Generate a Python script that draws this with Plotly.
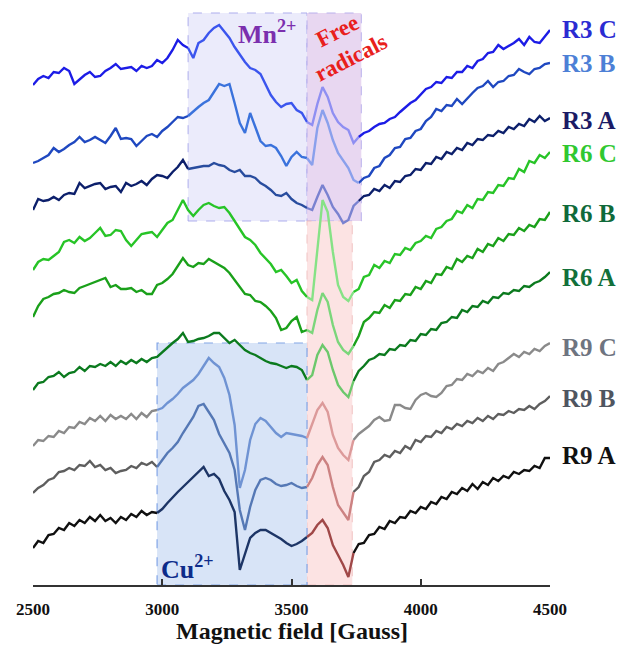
import plotly.graph_objects as go

# Magnetic field sweep (Gauss)
FIELD_G = list(range(2500, 4501, 20))

# EPR spectra, stacked, arbitrary units
R3_C = [515, 521, 524, 522, 528, 527, 532, 529, 516, 521,
        525, 528, 523, 524, 529, 532, 536, 531, 532, 533,
        529, 534, 532, 534, 540, 537, 542, 550, 560, 555,
        552, 542, 557, 560, 567, 572, 575, 569, 562, 553,
        545, 538, 532, 530, 526, 516, 505, 498, 493, 496,
        497, 490, 487, 478, 475, 496, 513, 503, 487, 478,
        473, 470, 457, 463, 467, 469, 473, 476, 477, 481,
        483, 488, 493, 497, 500, 505, 511, 513, 518, 517,
        523, 522, 528, 528, 534, 532, 539, 541, 547, 548,
        555, 551, 554, 557, 561, 555, 563, 558, 557, 563,
        570]
R3_B = [437, 439, 442, 445, 452, 448, 451, 455, 458, 463,
        458, 460, 463, 460, 457, 464, 472, 461, 462, 461,
        454, 459, 464, 466, 463, 469, 473, 478, 483, 482,
        484, 489, 493, 497, 500, 508, 516, 514, 516, 497,
        477, 467, 487, 473, 459, 454, 455, 452, 444, 434,
        443, 448, 443, 442, 435, 472, 490, 477, 460, 447,
        439, 432, 420, 417, 422, 424, 432, 434, 442, 445,
        452, 453, 461, 462, 469, 471, 479, 483, 491, 489,
        495, 494, 501, 496, 502, 507, 512, 514, 519, 513,
        518, 519, 524, 525, 531, 528, 526, 531, 532, 536,
        537]
R3_A = [390, 401, 399, 400, 403, 400, 405, 407, 406, 417,
        412, 414, 416, 417, 411, 413, 414, 408, 417, 414,
        416, 419, 415, 421, 425, 424, 422, 428, 433, 440,
        431, 432, 433, 434, 434, 437, 435, 434, 430, 428,
        430, 424, 424, 422, 417, 414, 410, 405, 404, 407,
        401, 397, 395, 392, 390, 403, 415, 405, 393, 386,
        377, 380, 394, 399, 404, 405, 411, 409, 415, 412,
        419, 418, 424, 425, 431, 430, 437, 436, 443, 441,
        448, 446, 452, 450, 457, 455, 461, 460, 465, 464,
        469, 467, 473, 471, 476, 474, 481, 478, 484, 479,
        482]
R6_C = [330, 338, 341, 340, 344, 348, 358, 360, 357, 363,
        359, 362, 367, 372, 364, 365, 370, 369, 360, 354,
        360, 366, 367, 368, 363, 370, 377, 380, 390, 400,
        390, 384, 390, 395, 397, 394, 392, 393, 387, 379,
        370, 363, 360, 355, 347, 341, 336, 328, 330, 324,
        317, 320, 309, 303, 300, 350, 400, 388, 348, 315,
        303, 299, 308, 311, 323, 325, 335, 332, 339, 337,
        346, 345, 352, 350, 357, 359, 364, 362, 371, 373,
        379, 381, 389, 387, 395, 392, 401, 400, 408, 407,
        415, 414, 422, 421, 431, 428, 439, 437, 445, 442,
        448]
R6_B = [283, 294, 301, 303, 306, 307, 310, 308, 307, 312,
        314, 316, 318, 320, 322, 313, 315, 311, 311, 312,
        308, 310, 306, 306, 315, 317, 321, 326, 334, 342,
        335, 333, 337, 336, 341, 338, 335, 332, 327, 320,
        312, 306, 305, 299, 298, 294, 289, 282, 270, 272,
        279, 283, 268, 270, 267, 290, 307, 298, 275, 258,
        250, 246, 254, 264, 278, 282, 288, 287, 295, 292,
        300, 299, 306, 305, 313, 311, 319, 317, 326, 325,
        333, 331, 341, 338, 344, 342, 351, 348, 356, 354,
        362, 359, 366, 365, 372, 369, 375, 373, 381, 380,
        388]
R6_A = [210, 217, 218, 223, 224, 228, 223, 227, 228, 233,
        229, 234, 233, 236, 234, 238, 234, 239, 236, 240,
        237, 241, 238, 242, 243, 248, 253, 257, 261, 267,
        258, 259, 261, 262, 264, 267, 267, 262, 257, 260,
        255, 250, 247, 245, 242, 239, 237, 236, 234, 232,
        234, 233, 230, 220, 225, 245, 255, 248, 230, 215,
        208, 203, 219, 229, 234, 240, 242, 246, 245, 251,
        250, 255, 254, 260, 259, 266, 265, 271, 270, 277,
        278, 283, 282, 290, 288, 294, 293, 299, 297, 303,
        302, 307, 306, 310, 309, 314, 313, 317, 319, 323,
        328]
R9_C = [154, 160, 159, 164, 163, 169, 167, 173, 172, 178,
        176, 182, 179, 184, 179, 185, 181, 184, 181, 186,
        181, 187, 183, 189, 190, 192, 197, 201, 206, 212,
        216, 220, 226, 234, 242, 237, 233, 222, 205, 175,
        112, 130, 160, 176, 182, 179, 173, 167, 163, 167,
        166, 165, 164, 162, 175, 190, 197, 188, 165, 152,
        145, 140, 160, 166, 170, 174, 180, 183, 179, 180,
        195, 195, 192, 191, 200, 205, 207, 204, 203, 207,
        214, 215, 221, 220, 226, 224, 229, 227, 232, 229,
        236, 238, 242, 246, 243, 248, 246, 251, 249, 254,
        257]
R9_B = [107, 112, 115, 120, 122, 128, 129, 132, 130, 135,
        134, 139, 133, 135, 130, 132, 127, 129, 130, 134,
        132, 137, 135, 138, 133, 140, 147, 152, 158, 167,
        175, 183, 194, 196, 188, 180, 166, 156, 147, 130,
        90, 70, 93, 110, 120, 122, 120, 116, 114, 115,
        117, 114, 112, 113, 122, 135, 143, 135, 113, 95,
        87, 80, 108, 113, 124, 128, 138, 140, 145, 143,
        149, 147, 154, 151, 160, 158, 164, 163, 169, 167,
        173, 171, 176, 174, 179, 177, 182, 179, 184, 181,
        186, 185, 189, 187, 191, 190, 194, 191, 196, 199,
        204]
R9_A = [52, 59, 57, 65, 66, 72, 70, 77, 74, 80,
        77, 83, 79, 85, 79, 82, 77, 83, 80, 86,
        83, 89, 85, 88, 87, 91, 97, 103, 108, 113,
        118, 123, 129, 133, 124, 126, 121, 109, 100, 88,
        30, 47, 62, 67, 70, 70, 67, 64, 61, 57,
        54, 56, 59, 63, 67, 75, 80, 72, 55, 45,
        35, 23, 47, 56, 57, 65, 66, 73, 71, 79,
        77, 83, 82, 89, 87, 93, 91, 98, 96, 103,
        101, 108, 106, 112, 109, 116, 111, 118, 115, 122,
        119, 124, 122, 128, 126, 130, 129, 134, 132, 142,
        142]

SAMPLE_NAMES = ["R3 C", "R3 B", "R3 A", "R6 C", "R6 B", "R6 A", "R9 C", "R9 B", "R9 A"]
SAMPLE_DATA = [R3_C, R3_B, R3_A, R6_C, R6_B, R6_A, R9_C, R9_B, R9_A]
LABEL_LEVEL = [571, 537, 480, 447, 387, 323, 253, 202, 145]

# Field windows of the highlighted signals (Gauss)
MN_WINDOW = (3100, 3560)
CU_WINDOW = (2980, 3560)
FR_WINDOW_TOP = (3560, 3770)
FR_WINDOW = (3560, 3740)

FONT = "Liberation Serif"

# line colour outside windows, colour in metal window, colour in radical window, label colour
STYLE = {
    "R3 C": ("#1c1ce6", "#3b55ee", "#8f8ff2", "#2b2bd2"),
    "R3 B": ("#1f48c0", "#3a72dc", "#8aa0ec", "#4d80d6"),
    "R3 A": ("#0c1f6b", "#284c9e", "#7a82d0", "#1b1b66"),
    "R6 C": ("#27c427", None, "#86e286", "#30c830"),
    "R6 B": ("#1aa01a", None, "#7bd67b", "#0f6a3a"),
    "R6 A": ("#0b7a1e", None, "#6cc86c", "#12703a"),
    "R9 C": ("#8a8a8a", "#6f93d3", "#dc9a9a", "#6e7480"),
    "R9 B": ("#5e5e5e", "#5578b5", "#cc8282", "#4f5560"),
    "R9 A": ("#101010", "#1d3566", "#a04848", "#111111"),
}


def windows_for(name):
    base, metal, radical, _ = STYLE[name]
    if name.startswith("R3"):
        return [(MN_WINDOW[0], MN_WINDOW[1], metal), (FR_WINDOW[0], 3760, radical)]
    if name.startswith("R9"):
        return [(CU_WINDOW[0], CU_WINDOW[1], metal), (FR_WINDOW[0], FR_WINDOW[1], radical)]
    return [(FR_WINDOW[0], FR_WINDOW[1], radical)]


fig = go.Figure()

for name, values in zip(SAMPLE_NAMES, SAMPLE_DATA):
    wins = windows_for(name)
    base_col = STYLE[name][0]
    outside = [v if not any(lo < x < hi for lo, hi, _ in wins) else None
               for x, v in zip(FIELD_G, values)]
    fig.add_trace(go.Scatter(x=FIELD_G, y=outside, mode="lines",
                             line=dict(color=base_col, width=2.4),
                             connectgaps=False, showlegend=False, hoverinfo="skip"))
    for lo, hi, col in wins:
        inside = [v if lo <= x <= hi else None for x, v in zip(FIELD_G, values)]
        fig.add_trace(go.Scatter(x=FIELD_G, y=inside, mode="lines",
                                 line=dict(color=col, width=2.4),
                                 connectgaps=False, showlegend=False, hoverinfo="skip"))

shapes = [
    # Mn2+ window
    dict(type="rect", xref="x", yref="y", x0=MN_WINDOW[0], x1=MN_WINDOW[1], y0=379, y1=587,
         fillcolor="rgba(228,228,250,0.75)", line=dict(color="rgba(165,165,235,0.9)", width=1, dash="dash"),
         layer="below"),
    # free radicals, upper part
    dict(type="rect", xref="x", yref="y", x0=FR_WINDOW_TOP[0], x1=FR_WINDOW_TOP[1], y0=379, y1=587,
         fillcolor="rgba(228,208,238,0.85)", line=dict(color="rgba(180,170,235,0.9)", width=1, dash="dash"),
         layer="below"),
    # free radicals, lower part
    dict(type="rect", xref="x", yref="y", x0=FR_WINDOW[0], x1=3735, y0=15, y1=379,
         fillcolor="rgba(251,222,222,0.85)", line=dict(color="rgba(240,190,190,0.9)", width=1, dash="dash"),
         layer="below"),
    # Cu2+ window
    dict(type="rect", xref="x", yref="y", x0=CU_WINDOW[0], x1=CU_WINDOW[1], y0=15, y1=257,
         fillcolor="rgba(216,228,247,1)", line=dict(color="rgba(130,165,230,1)", width=1.2, dash="dash"),
         layer="below"),
]

annotations = []
for name, level in zip(SAMPLE_NAMES, LABEL_LEVEL):
    annotations.append(dict(x=1.019, y=level, xref="paper", yref="y", xanchor="left", yanchor="middle",
                            text="<b>%s</b>" % name, showarrow=False,
                            font=dict(family=FONT, size=25, color=STYLE[name][3])))

annotations += [
    dict(x=3405, y=568, xref="x", yref="y", text="<b>Mn<sup>2+</sup></b>", showarrow=False,
         font=dict(family=FONT, size=26, color="#7b2fae")),
    dict(x=3703, y=556, xref="x", yref="y", text="<b>Free<br>radicals</b>", showarrow=False,
         textangle=-27, font=dict(family=FONT, size=23, color="#e8201c")),
    dict(x=3096, y=33, xref="x", yref="y", text="<b>Cu<sup>2+</sup></b>", showarrow=False,
         font=dict(family=FONT, size=26, color="#0d2b8a")),
    dict(x=0.5, y=-0.0786, xref="paper", yref="paper", yanchor="middle",
         text="<b>Magnetic field [Gauss]</b>", showarrow=False,
         font=dict(family=FONT, size=24, color="#111111")),
]

fig.update_layout(
    width=629, height=645,
    margin=dict(l=33, r=79, t=0, b=60),
    paper_bgcolor="white", plot_bgcolor="white",
    shapes=shapes, annotations=annotations,
    showlegend=False,
    xaxis=dict(range=[2500, 4500], showgrid=False, zeroline=False,
               showline=True, linecolor="#333333", linewidth=2,
               ticks="inside", ticklen=6, tickwidth=1.5, tickcolor="#333333",
               tickvals=[2500, 3000, 3500, 4000, 4500],
               ticktext=["<b>2500</b>", "<b>3000</b>", "<b>3500</b>", "<b>4000</b>", "<b>4500</b>"],
               tickfont=dict(family=FONT, size=17, color="#111111"),
               ticklabelstandoff=8),
    yaxis=dict(range=[15, 600], visible=False, showgrid=False, zeroline=False),
)

fig.write_html("out.html")
